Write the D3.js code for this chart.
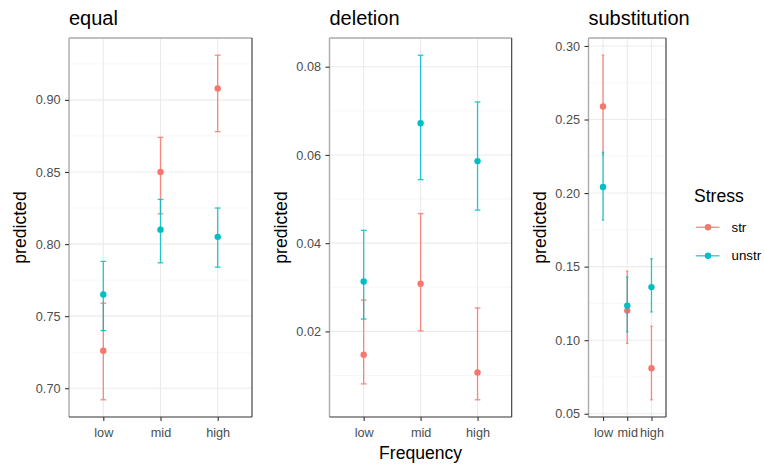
<!DOCTYPE html>
<html>
<head>
<meta charset="utf-8">
<script src="https://cdn.jsdelivr.net/npm/d3@7"></script>
<style>
  body { margin: 0; background: #fff; }
  svg { font-family: "Liberation Sans", Arial, sans-serif; }
</style>
</head>
<body>
<div class="chart"></div>
<script>
var svgWidth = 764;
var svgHeight = 466;

// data
var frequency = ["low", "mid", "high"];
var stress = ["str", "unstr"];
var panels = ["equal", "deletion", "substitution"];

var equalStr = [0.726, 0.850, 0.908];
var equalStrLow = [0.692, 0.821, 0.878];
var equalStrHigh = [0.759, 0.874, 0.931];
var equalUnstr = [0.765, 0.810, 0.805];
var equalUnstrLow = [0.740, 0.787, 0.784];
var equalUnstrHigh = [0.788, 0.831, 0.825];

var deletionStr = [0.0147, 0.0308, 0.0107];
var deletionStrLow = [0.0081, 0.0201, 0.0045];
var deletionStrHigh = [0.0271, 0.0467, 0.0253];
var deletionUnstr = [0.0313, 0.0672, 0.0586];
var deletionUnstrLow = [0.0228, 0.0544, 0.0475];
var deletionUnstrHigh = [0.0429, 0.0826, 0.0720];

var substStr = [0.2588, 0.1201, 0.0809];
var substStrLow = [0.2260, 0.0978, 0.0595];
var substStrHigh = [0.2937, 0.1469, 0.1095];
var substUnstr = [0.2041, 0.1235, 0.1361];
var substUnstrLow = [0.1817, 0.1057, 0.1192];
var substUnstrHigh = [0.2277, 0.1428, 0.1554];

var equalTicks = [0.70, 0.75, 0.80, 0.85, 0.90];
var deletionTicks = [0.02, 0.04, 0.06, 0.08];
var substTicks = [0.05, 0.10, 0.15, 0.20, 0.25, 0.30];

var colors = { str: "#F8766D", unstr: "#00BFC4" };

function rows(est, lo, hi) {
  return frequency.map(function(f, i) {
    return { freq: f, est: est[i], lo: lo[i], hi: hi[i] };
  });
}

var panelData = [
  { title: panels[0], ticks: equalTicks, left: 69, right: 252,
    series: { str: rows(equalStr, equalStrLow, equalStrHigh),
              unstr: rows(equalUnstr, equalUnstrLow, equalUnstrHigh) } },
  { title: panels[1], ticks: deletionTicks, left: 329.5, right: 511.7,
    series: { str: rows(deletionStr, deletionStrLow, deletionStrHigh),
              unstr: rows(deletionUnstr, deletionUnstrLow, deletionUnstrHigh) } },
  { title: panels[2], ticks: substTicks, left: 588.5, right: 666,
    series: { str: rows(substStr, substStrLow, substStrHigh),
              unstr: rows(substUnstr, substUnstrLow, substUnstrHigh) } }
];

var plotTop = 38, plotBottom = 417;

var svg = d3.select(".chart")
  .append("svg")
  .attr("width", svgWidth)
  .attr("height", svgHeight);

var fmt = d3.format(".2f");

panelData.forEach(function(p) {
  var all = stress.reduce(function(acc, s) { return acc.concat(p.series[s]); }, []);
  var lo = d3.min(all, d => d.lo), hi = d3.max(all, d => d.hi);
  var pad = (hi - lo) * 0.05;

  var y = d3.scaleLinear().domain([lo - pad, hi + pad]).range([plotBottom, plotTop]);
  var x = d3.scalePoint().domain(frequency).range([p.left, p.right]).padding(0.6);
  var step = x.step();

  var g = svg.append("g");

  // minor grid
  var minor = [];
  var t = p.ticks;
  var dt = t[1] - t[0];
  for (var i = -1; i < t.length; i++) {
    var v = (i < 0 ? t[0] - dt / 2 : t[i] + dt / 2);
    if (v > y.domain()[0] && v < y.domain()[1]) minor.push(v);
  }
  g.selectAll(".minor")
    .data(minor)
    .enter().append("line")
    .attr("x1", p.left).attr("x2", p.right)
    .attr("y1", d => y(d)).attr("y2", d => y(d))
    .attr("stroke", "#F2F2F2").attr("stroke-width", 0.6);

  // major grid
  g.selectAll(".major")
    .data(p.ticks)
    .enter().append("line")
    .attr("x1", p.left).attr("x2", p.right)
    .attr("y1", d => y(d)).attr("y2", d => y(d))
    .attr("stroke", "#EBEBEB").attr("stroke-width", 1.1);

  g.selectAll(".vgrid")
    .data(frequency)
    .enter().append("line")
    .attr("x1", d => x(d)).attr("x2", d => x(d))
    .attr("y1", plotTop).attr("y2", plotBottom)
    .attr("stroke", "#EBEBEB").attr("stroke-width", 1.1);

  // error bars and points
  stress.forEach(function(s) {
    var data = p.series[s];
    var eb = g.append("g").attr("stroke", colors[s]).attr("stroke-width", 1.3).attr("opacity", 0.85);
    eb.selectAll(".v").data(data).enter().append("line")
      .attr("x1", d => x(d.freq)).attr("x2", d => x(d.freq))
      .attr("y1", d => y(d.lo)).attr("y2", d => y(d.hi));
    eb.selectAll(".c1").data(data).enter().append("line")
      .attr("x1", d => x(d.freq) - step * 0.05).attr("x2", d => x(d.freq) + step * 0.05)
      .attr("y1", d => y(d.lo)).attr("y2", d => y(d.lo));
    eb.selectAll(".c2").data(data).enter().append("line")
      .attr("x1", d => x(d.freq) - step * 0.05).attr("x2", d => x(d.freq) + step * 0.05)
      .attr("y1", d => y(d.hi)).attr("y2", d => y(d.hi));
    g.selectAll(".pt-" + s).data(data).enter().append("circle")
      .attr("cx", d => x(d.freq)).attr("cy", d => y(d.est))
      .attr("r", 3.2).attr("fill", colors[s]);
  });

  // border
  g.append("line").attr("x1", p.left).attr("x2", p.right).attr("y1", plotTop).attr("y2", plotTop)
    .attr("stroke", "#ABABAB").attr("stroke-width", 1.4);
  g.append("line").attr("x1", p.left).attr("x2", p.left).attr("y1", plotTop).attr("y2", plotBottom)
    .attr("stroke", "#ABABAB").attr("stroke-width", 1.4);
  g.append("line").attr("x1", p.left).attr("x2", p.right).attr("y1", plotBottom).attr("y2", plotBottom)
    .attr("stroke", "#333").attr("stroke-width", 1.1);
  g.append("line").attr("x1", p.right).attr("x2", p.right).attr("y1", plotTop).attr("y2", plotBottom)
    .attr("stroke", "#333").attr("stroke-width", 1.1);

  // axes
  var leftAxis = d3.axisLeft(y).tickValues(p.ticks).tickFormat(fmt).tickSize(4).tickPadding(4.5);
  var bottomAxis = d3.axisBottom(x).tickSize(4).tickPadding(7);

  var ya = g.append("g").attr("transform", `translate(${p.left}, 0)`).call(leftAxis);
  var xa = g.append("g").attr("transform", `translate(0, ${plotBottom})`).call(bottomAxis);
  [ya, xa].forEach(function(a) {
    a.select(".domain").remove();
    a.selectAll("line").attr("stroke", "#333").attr("stroke-width", 1.1);
    a.selectAll("text").attr("fill", "#4D4D4D").style("font-size", "12.7px")
      .style("font-family", "'Liberation Sans', Arial, sans-serif");
  });

  // panel title
  svg.append("text")
    .attr("x", p.left).attr("y", 24.5)
    .style("font-size", "20px")
    .text(p.title);

  // y axis title
  svg.append("text")
    .attr("transform", `translate(${p.left - 43}, ${(plotTop + plotBottom) / 2}) rotate(-90)`)
    .attr("text-anchor", "middle")
    .style("font-size", "17.6px")
    .text("predicted");
});

// x axis title
svg.append("text")
  .attr("x", (panelData[1].left + panelData[1].right) / 2)
  .attr("y", 459)
  .attr("text-anchor", "middle")
  .style("font-size", "17.6px")
  .text("Frequency");

// legend
var legend = svg.append("g");
legend.append("text")
  .attr("x", 694).attr("y", 201.7)
  .style("font-size", "17.6px")
  .text("Stress");

var keys = legend.selectAll(".key")
  .data(stress)
  .enter().append("g")
  .attr("transform", (d, i) => `translate(0, ${227.3 + i * 28.5})`);
keys.append("line")
  .attr("x1", 696).attr("x2", 719.5)
  .attr("stroke", d => colors[d]).attr("stroke-width", 1.3).attr("opacity", 0.85);
keys.append("circle")
  .attr("cx", 708).attr("r", 3.2).attr("fill", d => colors[d]);
keys.append("text")
  .attr("x", 731.5).attr("dy", "0.35em")
  .style("font-size", "13.3px")
  .text(d => d);
</script>
</body>
</html>
